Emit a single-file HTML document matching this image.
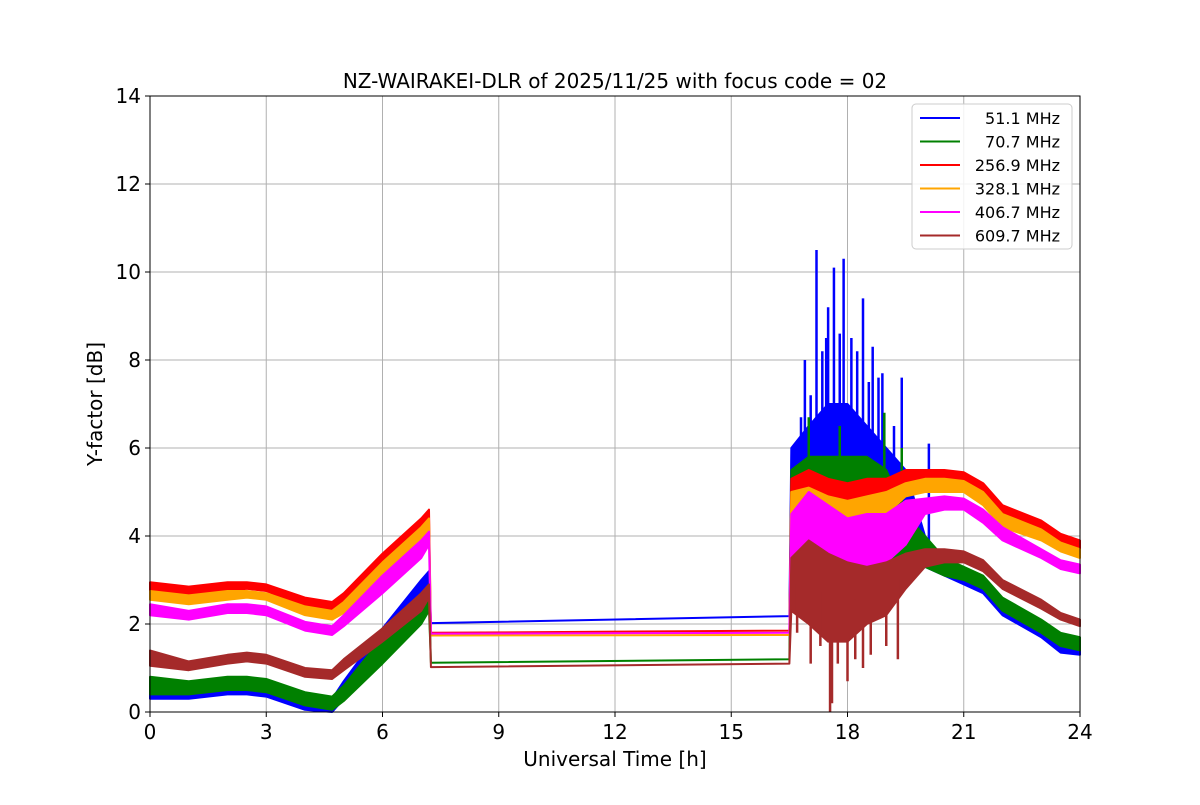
<!DOCTYPE html>
<html><head><meta charset="utf-8"><style>
body{margin:0;background:#fff;font-family:"Liberation Sans","DejaVu Sans",sans-serif}
svg text{font-family:"DejaVu Sans","Liberation Sans",sans-serif}
</style></head><body>
<svg id="chart" width="1200" height="800" xmlns="http://www.w3.org/2000/svg">
<rect width="1200" height="800" fill="#fff"/>
<g id="grid"></g><g id="series"></g><g id="axes"></g>
</svg>
<script>
const hours=[0,1,2,2.5,3,4,4.7,5,6,7,7.2,7.25,16.5,16.55,17,17.5,18,18.5,19,19.5,20,20.5,21,21.5,22,23,23.5,24];
const seriesNames=["51.1 MHz","70.7 MHz","256.9 MHz","328.1 MHz","406.7 MHz","609.7 MHz"];
const blueLo=[.3,.3,.4,.4,.35,.05,0,.3,1.3,2.3,2.6,2.02,2.18,4,4.5,4.5,4.5,4.5,4.5,4.3,3.3,3.1,2.9,2.7,2.2,1.7,1.35,1.3];
const blueHi=[.7,.6,.7,.7,.65,.35,.3,.7,1.9,3.0,3.2,2.02,2.18,6,6.5,7,7,6.5,6,5.5,4.0,3.4,3.2,3.0,2.5,2.0,1.65,1.6];
const greenLo=[.4,.4,.5,.5,.45,.15,.05,.25,1.1,2.0,2.3,1.12,1.2,3.5,3.5,3.8,3.5,3.5,3.5,3.3,3.3,3.1,3.0,2.8,2.3,1.8,1.5,1.4];
const greenHi=[.8,.7,.8,.8,.75,.45,.35,.6,1.7,2.7,2.7,1.12,1.2,5.5,5.8,5.8,5.8,5.8,5.5,4.5,4.0,3.5,3.3,3.1,2.6,2.1,1.8,1.7];
const redLo=[2.75,2.65,2.75,2.8,2.75,2.4,2.3,2.45,3.3,4.1,4.3,1.8,1.85,4.5,4.8,4.7,4.3,4.4,4.7,5.1,5.2,5.2,5.2,4.9,4.4,4.1,3.85,3.7];
const redHi=[2.95,2.85,2.95,2.95,2.9,2.6,2.5,2.7,3.6,4.4,4.6,1.8,1.85,5.3,5.5,5.3,5.2,5.3,5.3,5.5,5.5,5.5,5.45,5.2,4.7,4.35,4.05,3.9];
const orangeLo=[2.55,2.45,2.55,2.6,2.55,2.2,2.1,2.25,3.1,3.9,4.1,1.74,1.75,4.3,4.6,4.4,4.0,4.1,4.5,4.9,5.0,5.0,5.0,4.7,4.2,3.9,3.65,3.5];
const orangeHi=[2.75,2.65,2.75,2.75,2.7,2.4,2.3,2.5,3.4,4.2,4.4,1.74,1.75,5.0,5.1,4.9,4.8,4.9,5.0,5.2,5.3,5.3,5.25,5.0,4.5,4.15,3.85,3.7];
const magentaLo=[2.2,2.1,2.25,2.25,2.2,1.85,1.75,1.95,2.7,3.5,3.8,1.78,1.8,3.5,3.3,3.5,3.3,3.2,3.4,3.8,4.5,4.6,4.6,4.3,3.9,3.5,3.25,3.15];
const magentaHi=[2.45,2.3,2.45,2.45,2.4,2.05,1.95,2.2,3.1,3.9,4.1,1.78,1.8,4.5,5.0,4.7,4.4,4.5,4.5,4.8,4.85,4.9,4.85,4.6,4.2,3.7,3.45,3.35];
const brownLo=[1.05,.95,1.1,1.15,1.1,.8,.75,.95,1.6,2.3,2.6,1.02,1.1,2.3,2.0,1.6,1.6,2.0,2.2,2.8,3.3,3.4,3.4,3.2,2.8,2.35,2.1,1.95];
const brownHi=[1.4,1.15,1.3,1.35,1.3,1.0,.95,1.2,1.9,2.7,2.9,1.02,1.1,3.5,3.9,3.6,3.4,3.3,3.4,3.6,3.7,3.7,3.65,3.45,3.0,2.55,2.25,2.1];
const blueSpikeHours=[16.8,16.9,17.05,17.2,17.35,17.45,17.5,17.65,17.8,17.9,18.1,18.25,18.4,18.55,18.65,18.8,18.9,19.2,19.4,20.1];
const blueSpikeValues=[6.7,8,7.2,10.5,8.2,8.5,9.2,10.1,8.6,10.3,8.5,8.2,9.4,7.5,8.3,7.6,7.7,6.5,7.6,6.1];
const greenSpikeHours=[17.0,17.8,18.95,19.4];
const greenSpikeValues=[6.7,6.5,6.8,6.0];
const brownSpikeHours=[16.7,17.05,17.3,17.55,17.6,17.75,18.0,18.2,18.4,18.6,19.0,19.3];
const brownSpikeValues=[1.8,1.1,1.5,0,0.2,1.1,0.7,1.2,1.0,1.3,1.5,1.2];
const xTicks=[0,3,6,9,12,15,18,21,24];
const yTicks=[0,2,4,6,8,10,12,14];

const X0=150,X1=1080,Y0=712,Y1=96;
const xs=h=>X0+(h/24)*(X1-X0);
const ys=v=>Y0-(v/14)*(Y0-Y1);
const NS="http://www.w3.org/2000/svg";
function mk(tag,attrs,parent){const e=document.createElementNS(NS,tag);for(const k in attrs)e.setAttribute(k,attrs[k]);parent.appendChild(e);return e;}
const grid=document.getElementById('grid'),ser=document.getElementById('series'),axes=document.getElementById('axes');
xTicks.forEach(t=>{const l=mk('line',{x1:xs(t),x2:xs(t),y1:Y1,y2:Y0,stroke:'#b0b0b0','stroke-width':1},grid);

});
yTicks.forEach(t=>{const l=mk('line',{x1:X0,x2:X1,y1:ys(t),y2:ys(t),stroke:'#b0b0b0','stroke-width':1},grid);

});
const colors=['#0000ff','#008000','#ff0000','#ffa500','#ff00ff','#a52a2a'];
const los=[blueLo,greenLo,redLo,orangeLo,magentaLo,brownLo];
const his=[blueHi,greenHi,redHi,orangeHi,magentaHi,brownHi];
function interp(arrLo,arrHi,h){for(let i=0;i<hours.length-1;i++){if(h>=hours[i]&&h<=hours[i+1]){const f=(h-hours[i])/(hours[i+1]-hours[i]);return ((arrLo[i]+arrHi[i])/2)*(1-f)+((arrLo[i+1]+arrHi[i+1])/2)*f;}}return 0;}
function drawSpikes(idx,hs,vs){let d='';hs.forEach((h,i)=>{d+=`M${xs(h)},${ys(interp(los[idx],his[idx],h))}L${xs(h)},${ys(vs[i])}`;});
const p=mk('path',{d:d,stroke:colors[idx],'stroke-width':2.5,fill:'none'},ser);

}
for(let s=0;s<6;s++){
  let pts=hours.map((h,i)=>`${xs(h)},${ys(his[s][i])}`);
  for(let i=hours.length-1;i>=0;i--)pts.push(`${xs(hours[i])},${ys(los[s][i])}`);
  const p=mk('polygon',{points:pts.join(' '),fill:colors[s],stroke:colors[s],'stroke-width':2,'stroke-linejoin':'round'},ser);
  
  
  if(s===0)drawSpikes(0,blueSpikeHours,blueSpikeValues);
  if(s===1)drawSpikes(1,greenSpikeHours,greenSpikeValues);
  if(s===5)drawSpikes(5,brownSpikeHours,brownSpikeValues);
}
const frame=mk('rect',{x:X0,y:Y1,width:X1-X0,height:Y0-Y1,fill:'none',stroke:'#000','stroke-width':1},axes);


xTicks.forEach(t=>{mk('line',{x1:xs(t),x2:xs(t),y1:Y0,y2:Y0+5,stroke:'#000'},axes);
const tx=mk('text',{x:xs(t),y:Y0+27,'text-anchor':'middle','font-size':20},axes);tx.textContent=t;

});
yTicks.forEach(t=>{mk('line',{x1:X0-5,x2:X0,y1:ys(t),y2:ys(t),stroke:'#000'},axes);
const tx=mk('text',{x:X0-9,y:ys(t)+7,'text-anchor':'end','font-size':20},axes);tx.textContent=t;

});
const title=mk('text',{x:615,y:88,'text-anchor':'middle','font-size':20},axes);title.textContent='NZ-WAIRAKEI-DLR of 2025/11/25 with focus code = 02';


const xl=mk('text',{x:615,y:766,'text-anchor':'middle','font-size':20},axes);xl.textContent='Universal Time [h]';


const yl=mk('text',{x:102,y:404,'text-anchor':'middle','font-size':20,transform:'rotate(-90 102 404)'},axes);yl.textContent='Y-factor [dB]';


const leg=mk('g',{},axes);


mk('rect',{x:912,y:104,width:160,height:145,rx:4,fill:'#fff','fill-opacity':0.85,stroke:'#ccc'},leg);
seriesNames.forEach((n,i)=>{const y=118+i*23.5;
const ln=mk('line',{x1:920,x2:960,y1:y,y2:y,stroke:colors[i],'stroke-width':2},leg);


const t=mk('text',{x:1060,y:y+6,'text-anchor':'end','font-size':16},leg);t.textContent=n;

});
</script>
</body></html>
